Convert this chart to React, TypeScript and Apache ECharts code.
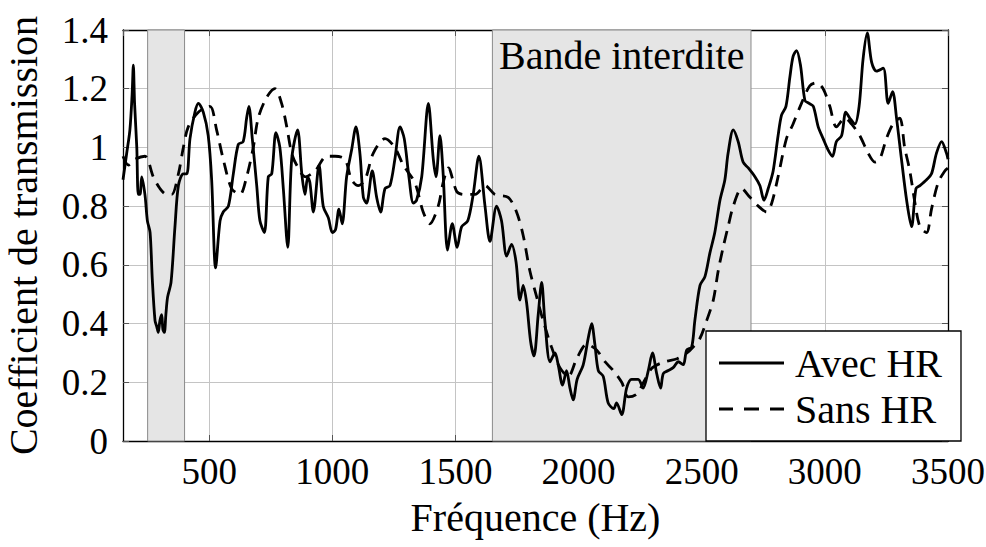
import React, { useEffect, useRef } from "react";
import * as echarts from "echarts";

const avecFreq = [150,165,178,187,192,197,206,212,219,226,239,249,260,269,280,287,293,300,307,312,318,324,331,345,361,375,395,409,422,442,456,476,496,510,526,544,557,578,598,618,638,652,661,675,693,706,724,740,754,771,787,801,819,835,859,876,889,900,909,923,946,963,984,1000,1013,1027,1040,1058,1078,1096,1112,1126,1139,1162,1180,1196,1214,1234,1254,1275,1292,1311,1329,1342,1363,1390,1410,1421,1437,1450,1468,1487,1507,1525,1550,1572,1595,1620,1640,1667,1687,1708,1728,1746,1762,1775,1789,1805,1819,1836,1850,1863,1884,1904,1917,1935,1951,1965,1978,1994,2019,2039,2053,2066,2080,2100,2120,2143,2154,2175,2195,2215,2242,2262,2283,2300,2317,2333,2344,2364,2384,2405,2425,2439,2459,2472,2493,2513,2533,2553,2574,2594,2607,2628,2648,2668,2689,2716,2736,2753,2770,2790,2810,2824,2842,2858,2871,2885,2901,2919,2936,2953,2973,2993,3014,3031,3047,3068,3085,3101,3122,3139,3155,3172,3190,3210,3237,3257,3275,3291,3311,3332,3352,3370,3386,3413,3433,3453,3474,3494,3500];
const avecVal = [0.89,0.98,1.06,1.18,1.28,1.15,1.00,0.84,0.84,0.90,0.84,0.75,0.71,0.55,0.41,0.39,0.37,0.41,0.43,0.38,0.37,0.43,0.49,0.54,0.73,0.87,0.91,0.91,1.03,1.12,1.15,1.12,1.04,0.89,0.59,0.75,0.78,0.80,0.91,1.01,1.02,1.10,1.14,1.03,0.87,0.75,0.71,0.90,0.91,1.05,1.00,0.86,0.66,0.96,1.06,0.91,0.84,0.90,0.88,0.78,0.94,0.80,0.76,0.71,0.72,0.79,0.74,0.90,0.99,1.07,0.98,0.83,0.81,0.92,0.83,0.78,0.86,0.87,0.96,1.07,1.03,0.90,0.81,0.82,0.90,1.15,0.96,0.90,1.04,0.91,0.65,0.74,0.66,0.73,0.75,0.84,0.97,0.80,0.68,0.80,0.75,0.63,0.67,0.61,0.48,0.53,0.47,0.34,0.29,0.43,0.54,0.41,0.27,0.30,0.26,0.19,0.24,0.18,0.14,0.21,0.26,0.35,0.40,0.33,0.24,0.22,0.13,0.11,0.13,0.09,0.18,0.21,0.21,0.18,0.24,0.30,0.23,0.18,0.23,0.24,0.25,0.27,0.26,0.31,0.32,0.41,0.53,0.56,0.64,0.71,0.82,0.89,0.98,1.06,1.02,0.95,0.93,0.90,0.87,0.82,0.86,0.92,1.04,1.11,1.14,1.24,1.31,1.33,1.28,1.16,1.15,1.14,1.07,1.03,0.99,0.97,1.02,1.04,1.12,1.10,1.08,1.14,1.30,1.39,1.29,1.26,1.27,1.15,1.19,1.10,0.96,0.82,0.73,0.86,0.87,0.89,0.91,0.98,1.02,0.98,0.96];

const sansFreq = [150,172,199,239,273,300,327,348,375,395,415,456,503,530,557,591,625,652,679,699,733,767,794,815,835,855,890,930,977,1011,1051,1078,1105,1133,1166,1214,1254,1288,1335,1369,1396,1430,1450,1471,1505,1532,1580,1620,1660,1714,1748,1775,1802,1830,1856,1890,1924,1958,1992,2033,2073,2107,2141,2175,2202,2236,2270,2300,2350,2400,2440,2465,2493,2520,2547,2567,2587,2607,2628,2662,2696,2730,2763,2784,2810,2844,2871,2905,2939,2966,2993,3020,3047,3081,3108,3142,3176,3203,3223,3250,3277,3304,3324,3345,3366,3386,3413,3433,3460,3487,3500];
const sansVal = [0.97,0.94,0.96,0.97,0.90,0.86,0.84,0.84,0.91,1.00,1.07,1.12,1.14,1.06,0.96,0.86,0.84,0.90,1.00,1.10,1.17,1.20,1.15,1.07,0.98,0.94,0.90,0.92,0.97,0.97,0.96,0.89,0.87,0.89,0.98,1.03,1.00,0.94,0.88,0.78,0.74,0.80,0.88,0.93,0.85,0.84,0.84,0.87,0.84,0.83,0.78,0.70,0.58,0.49,0.41,0.32,0.25,0.22,0.28,0.33,0.31,0.27,0.24,0.20,0.15,0.16,0.21,0.25,0.27,0.28,0.30,0.32,0.35,0.41,0.48,0.58,0.66,0.73,0.80,0.86,0.83,0.80,0.78,0.81,0.90,1.03,1.08,1.15,1.21,1.22,1.20,1.14,1.07,1.10,1.08,1.04,0.98,0.95,0.96,1.03,1.08,1.10,1.00,0.92,0.81,0.73,0.71,0.79,0.88,0.92,0.93];

const bandSmall = [250, 400];
const bandGap = [1650, 2700];
const bandLabel = "Bande interdite";
const seriesNames = ["Avec HR", "Sans HR"];
const xLabel = "Fréquence (Hz)";
const yLabel = "Coefficient de transmission";

const FONT = "Liberation Serif, DejaVu Serif, Times New Roman, serif";

const ICON_SOLID = "path://M0,0h65v3h-65z";
const ICON_DASH = "path://M0,0h14v3h-14zM25,0h15v3h-15zM51,0h14v3h-14z";

export default function App() {
  const ref = useRef<HTMLDivElement>(null);
  useEffect(() => {
    if (!ref.current) return;
    const chart = echarts.init(ref.current, null, { renderer: "svg" });
    const avec = avecFreq.map((f, i) => [f, avecVal[i]]);
    const sans = sansFreq.map((f, i) => [f, sansVal[i]]);
    const numText = { fontFamily: FONT, color: "#000", fontSize: 37 };
    const wordText = { fontFamily: FONT, color: "#000", fontSize: 40 };
    chart.setOption({
      animation: false,
      backgroundColor: "#fff",
      textStyle: { fontFamily: FONT, color: "#000" },
      grid: { left: 123, top: 30, right: 38, bottom: 106, containLabel: false, outerBoundsMode: "none" },
      legend: {
        left: 706,
        top: 331,
        orient: "vertical",
        backgroundColor: "#fff",
        borderColor: "#000",
        borderWidth: 1.3,
        borderRadius: 0,
        padding: [12, 19, 12, 13],
        itemWidth: 65,
        itemHeight: 3,
        itemGap: 6,
        z: 10,
        textStyle: { ...wordText, lineHeight: 40, padding: [0, 0, 0, 6] },
        data: [
          { name: seriesNames[0], icon: ICON_SOLID, itemStyle: { color: "#000" } },
          { name: seriesNames[1], icon: ICON_DASH, itemStyle: { color: "#000" } },
        ],
      },
      xAxis: [
        {
          type: "value",
          min: 150,
          max: 3500,
          splitNumber: 5,
          position: "bottom",
          name: xLabel,
          nameLocation: "middle",
          nameGap: 56,
          nameTextStyle: { ...wordText },
          axisLine: { show: true, onZero: false, lineStyle: { color: "#000", width: 1.3 } },
          axisTick: { show: true, inside: true, length: 6, lineStyle: { color: "#555" } },
          axisLabel: { ...numText, margin: 12, showMinLabel: false, formatter: (v: number) => String(v) },
          splitLine: { show: true, lineStyle: { color: "#c4c4c4", width: 1 } },
        },
        {
          type: "value",
          min: 150,
          max: 3500,
          splitNumber: 5,
          position: "top",
          axisLine: { show: true, onZero: false, lineStyle: { color: "#000", width: 1.3 } },
          axisTick: { show: true, inside: true, length: 6, lineStyle: { color: "#555" } },
          axisLabel: { show: false },
          splitLine: { show: false },
        },
      ],
      yAxis: [
        {
          type: "value",
          min: 0,
          max: 1.4,
          interval: 0.2,
          position: "left",
          name: yLabel,
          nameLocation: "middle",
          nameGap: 80,
          nameTextStyle: { ...wordText },
          axisLine: { show: true, onZero: false, lineStyle: { color: "#000", width: 1.3 } },
          axisTick: { show: true, inside: true, length: 6, lineStyle: { color: "#555" } },
          axisLabel: { ...numText, margin: 15, formatter: (v: number) => String(Math.round(v * 10) / 10) },
          splitLine: { show: true, lineStyle: { color: "#c4c4c4", width: 1 } },
        },
        {
          type: "value",
          min: 0,
          max: 1.4,
          interval: 0.2,
          position: "right",
          axisLine: { show: true, onZero: false, lineStyle: { color: "#000", width: 1.3 } },
          axisTick: { show: true, inside: true, length: 6, lineStyle: { color: "#555" } },
          axisLabel: { show: false },
          splitLine: { show: false },
        },
      ],
      series: [
        {
          name: seriesNames[0],
          type: "line",
          data: avec,
          symbol: "none",
          smooth: 0.3,
          z: 3,
          lineStyle: { color: "#000", width: 2.8, type: "solid" },
          itemStyle: { color: "#000" },
          markArea: {
            silent: true,
            itemStyle: { color: "#e5e5e5", borderColor: "#8a8a8a", borderWidth: 1 },
            label: {
              show: true,
              position: "insideTop",
              distance: 6,
              ...wordText,
            },
            data: [
              [{ name: "", xAxis: bandSmall[0] }, { xAxis: bandSmall[1] }],
              [{ name: bandLabel, xAxis: bandGap[0] }, { xAxis: bandGap[1] }],
            ],
          },
        },
        {
          name: seriesNames[1],
          type: "line",
          data: sans,
          symbol: "none",
          smooth: 0.3,
          z: 2,
          lineStyle: { color: "#000", width: 2.8, type: [12, 8] },
          itemStyle: { color: "#000" },
        },
      ],
    });
    return () => chart.dispose();
  }, []);
  return (
    <div
      ref={ref}
      style={{ position: "absolute", left: 0, top: 0, width: 986, height: 547, background: "#fff" }}
    />
  );
}
